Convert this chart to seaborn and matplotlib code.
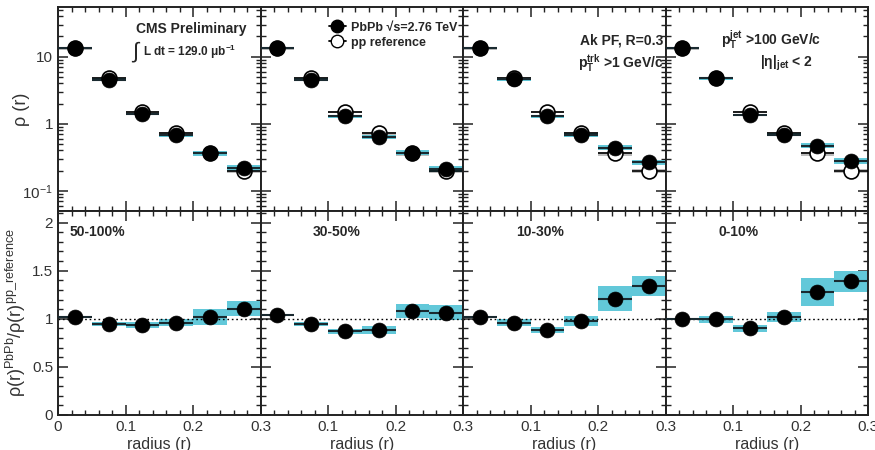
import matplotlib
matplotlib.use("Agg")
import matplotlib.pyplot as plt
from matplotlib.lines import Line2D
from matplotlib.ticker import MultipleLocator, LogLocator, NullFormatter
import numpy as np
import pandas as pd
import seaborn as sns

# bin centres in radius and half bin width
radius = [0.025, 0.075, 0.125, 0.175, 0.225, 0.275]
half_bin = 0.025
centralities = ["50-100%", "30-50%", "10-30%", "0-10%"]

# pp reference (same in every panel) and PbPb rho(r) per centrality panel
pp_ref = [13.3, 4.8, 1.5, 0.72, 0.36, 0.20]
pbpb_50_100 = [13.6, 4.55, 1.40, 0.67, 0.365, 0.222]
pbpb_30_50 = [13.6, 4.50, 1.29, 0.64, 0.37, 0.212]
pbpb_10_30 = [13.6, 4.58, 1.29, 0.685, 0.44, 0.265]
pbpb_0_10 = [13.4, 4.74, 1.35, 0.69, 0.47, 0.277]

# relative systematic half-heights of the boxes in the rho(r) panels
pbpb_rel_sys = [0.04, 0.05, 0.05, 0.06, 0.08, 0.10]
pp_rel_sys = [0.04, 0.05, 0.05, 0.06, 0.07, 0.07]

# ratio PbPb / pp and its systematic half-heights
ratio_50_100 = [1.02, 0.95, 0.935, 0.96, 1.02, 1.105]
ratio_30_50 = [1.04, 0.945, 0.87, 0.885, 1.08, 1.065]
ratio_10_30 = [1.02, 0.96, 0.88, 0.98, 1.21, 1.34]
ratio_0_10 = [1.00, 0.995, 0.90, 1.02, 1.28, 1.39]
sys_50_100 = [0.008, 0.02, 0.03, 0.035, 0.08, 0.075]
sys_30_50 = [0.008, 0.02, 0.025, 0.04, 0.075, 0.075]
sys_10_30 = [0.008, 0.04, 0.03, 0.05, 0.13, 0.105]
sys_0_10 = [0.005, 0.035, 0.04, 0.055, 0.145, 0.11]

pbpb_all = [pbpb_50_100, pbpb_30_50, pbpb_10_30, pbpb_0_10]
ratio_all = [ratio_50_100, ratio_30_50, ratio_10_30, ratio_0_10]
sys_all = [sys_50_100, sys_30_50, sys_10_30, sys_0_10]

CYAN = "#62c8d9"
GREY = "#bdbdbd"

sns.set_theme(style="ticks")
plt.rcParams["font.family"] = ["Liberation Sans", "DejaVu Sans"]
plt.rcParams["mathtext.fontset"] = "custom"
plt.rcParams["mathtext.rm"] = "Liberation Sans"
plt.rcParams["mathtext.bf"] = "Liberation Sans:bold"
plt.rcParams["mathtext.default"] = "regular"
plt.rcParams["axes.linewidth"] = 1.4
plt.rcParams["axes.edgecolor"] = "#222222"

fig, axes = plt.subplots(2, 4, figsize=(8.75, 4.5), dpi=100)
fig.subplots_adjust(left=58 / 875, right=868 / 875, top=1 - 7 / 450, bottom=1 - 415 / 450,
                    hspace=0, wspace=0)

rows = []
for i, cent in enumerate(centralities):
    for r, pb, pp, ra in zip(radius, pbpb_all[i], pp_ref, ratio_all[i]):
        rows.append({"panel": i, "r": r, "pbpb": pb, "pp": pp, "ratio": ra})
data = pd.DataFrame(rows)

for i, cent in enumerate(centralities):
    top = axes[0, i]
    bot = axes[1, i]
    d = data[data["panel"] == i]

    # rho(r) panel: systematic boxes, bin-width bars, markers
    pp = np.array(pp_ref)
    pb = np.array(pbpb_all[i])
    top.bar(radius, 2 * pp * np.array(pp_rel_sys), bottom=pp * (1 - np.array(pp_rel_sys)),
            width=2 * half_bin, color=GREY, linewidth=0, zorder=1)
    top.bar(radius, 2 * pb * np.array(pbpb_rel_sys), bottom=pb * (1 - np.array(pbpb_rel_sys)),
            width=2 * half_bin, color=CYAN, linewidth=0, zorder=2)
    top.errorbar(radius, pp_ref, xerr=half_bin, fmt="none", ecolor="black", elinewidth=1.2, zorder=3)
    top.errorbar(radius, pbpb_all[i], xerr=half_bin, fmt="none", ecolor="#1a2a30", elinewidth=1.5, zorder=3)
    sns.scatterplot(data=d, x="r", y="pp", ax=top, marker="o", s=115, facecolor="white",
                    edgecolor="black", linewidth=1.2, zorder=4, legend=False)
    sns.scatterplot(data=d, x="r", y="pbpb", ax=top, marker="o", s=115, color="black",
                    edgecolor="black", linewidth=0.5, zorder=5, legend=False)
    top.set_yscale("log")

    # ratio panel
    ra = np.array(ratio_all[i])
    sy = np.array(sys_all[i])
    bot.bar(radius, 2 * sy, bottom=ra - sy, width=2 * half_bin, color=CYAN, linewidth=0, zorder=1)
    bot.axhline(1.0, color="black", linestyle=(0, (1.2, 2.0)), linewidth=1.0, zorder=2)
    bot.errorbar(radius, ratio_all[i], xerr=half_bin, fmt="none", ecolor="#1a2a30", elinewidth=1.5, zorder=3)
    sns.scatterplot(data=d, x="r", y="ratio", ax=bot, marker="o", s=115, color="black",
                    edgecolor="black", linewidth=0.5, zorder=5, legend=False)
    bot.text(0.059 if i == 0 else 0.26, 0.897, cent, transform=bot.transAxes, fontsize=10,
             fontweight="bold", va="center", ha="left")

    for ax in (top, bot):
        ax.set_xlim(0, 0.3)
        ax.set_xticks([0, 0.1, 0.2, 0.3])
        ax.xaxis.set_minor_locator(MultipleLocator(0.02))
        ax.tick_params(which="both", direction="in", top=True, right=True, labelsize=11,
                       colors="#222222", labelcolor="#333333")
        ax.tick_params(which="major", length=7, width=1.1)
        ax.tick_params(which="minor", length=3.5, width=1.0)
        ax.set_xlabel("")
        ax.set_ylabel("")
    top.tick_params(labelbottom=False)
    top.set_yticks([0.1, 1, 10])
    top.yaxis.set_minor_locator(LogLocator(base=10, subs=np.arange(2, 10), numticks=20))
    top.yaxis.set_minor_formatter(NullFormatter())
    top.set_ylim(0.05, 55)
    bot.set_yticks([0, 0.5, 1, 1.5, 2])
    bot.yaxis.set_minor_locator(MultipleLocator(0.1))
    bot.set_ylim(0, 2.12)
    bot.set_xticklabels(["0" if i == 0 else "", "0.1", "0.2", "0.3"])
    bot.set_xlabel("radius (r)", fontsize=11.5, color="#333333", labelpad=2)
    if i == 0:
        top.set_yticklabels(["10$^{-1}$", "1", "10"])
        bot.set_yticklabels(["0", "0.5", "1", "1.5", "2"])
    else:
        top.set_yticklabels([])
        bot.set_yticklabels([])

axes[0, 0].set_ylabel("ρ (r)", fontsize=13, color="#333333")
axes[0, 0].yaxis.set_label_coords(-0.14, 0.5)
axes[1, 0].set_ylabel("ρ(r)$^{PbPb}$/ρ(r)$^{pp\\_reference}$", fontsize=13, color="#333333")
axes[1, 0].yaxis.set_label_coords(-0.15, 0.5)

# annotations
a0 = axes[0, 0]
a0.text(0.385, 0.892, "CMS Preliminary", transform=a0.transAxes, fontsize=10, fontweight="bold",
        va="center", ha="left")
a0.text(0.36, 0.775, "$\\int$", transform=a0.transAxes, fontsize=16, va="center", ha="left")
a0.text(0.42, 0.78, "L dt = 129.0 μb$^{\\mathbf{-1}}$", transform=a0.transAxes, fontsize=8.5,
        fontweight="bold", va="center", ha="left")

a1 = axes[0, 1]
handles = [
    Line2D([], [], color="black", marker="o", markersize=9, markerfacecolor="black", linewidth=1.3),
    Line2D([], [], color="black", marker="o", markersize=9, markerfacecolor="white", linewidth=1.3),
]
leg = a1.legend(handles, ["PbPb √s=2.76 TeV", "pp reference"], loc="upper right",
                bbox_to_anchor=(1.01, 0.965), frameon=False, handlelength=1.4, handletextpad=0.4,
                labelspacing=0.25, borderaxespad=0.2, prop={"size": 9, "weight": "bold"})

a2 = axes[0, 2]
a2.text(0.99, 0.838, "Ak PF, R=0.3", transform=a2.transAxes, fontsize=10, fontweight="bold",
        va="center", ha="right")
a2.text(0.99, 0.725, "$\\mathbf{p}_{\\mathbf{T}}^{\\mathbf{trk}}$ >1 GeV/c", transform=a2.transAxes,
        fontsize=10, fontweight="bold", va="center", ha="right")

a3 = axes[0, 3]
a3.text(0.52, 0.838, "$\\mathbf{p}_{\\mathbf{T}}^{\\mathbf{jet}}$ >100 GeV/c", transform=a3.transAxes,
        fontsize=10, fontweight="bold", va="center", ha="center")
a3.text(0.60, 0.725, "|η|$_{\\mathbf{jet}}$ < 2", transform=a3.transAxes, fontsize=10,
        fontweight="bold", va="center", ha="center")

fig.savefig("out.png", dpi=100)
